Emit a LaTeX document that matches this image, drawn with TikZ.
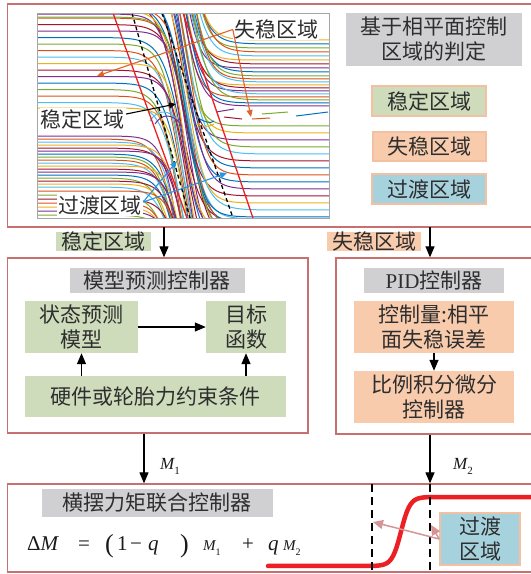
\documentclass[tikz,border=0pt]{standalone}
\usepackage{fontspec}
\setmainfont{Liberation Serif}
\newfontfamily\cjk{Noto Sans CJK SC}
\usetikzlibrary{arrows.meta}
\definecolor{boxred}{RGB}{200,112,112}
\definecolor{grayf}{RGB}{208,208,210}
\definecolor{greenf}{RGB}{206,220,188}
\definecolor{orangef}{RGB}{248,203,173}
\definecolor{bluef}{RGB}{166,210,222}
\definecolor{legb}{RGB}{244,192,162}
\definecolor{pinka}{RGB}{214,148,148}
\definecolor{oarr}{RGB}{222,100,40}
\definecolor{barr}{RGB}{40,150,222}
\definecolor{redc}{RGB}{236,32,36}
\definecolor{mc0}{RGB}{0,114,189}
\definecolor{mc1}{RGB}{217,83,25}
\definecolor{mc2}{RGB}{237,177,32}
\definecolor{mc3}{RGB}{126,47,142}
\definecolor{mc4}{RGB}{119,172,48}
\definecolor{mc5}{RGB}{77,190,238}
\definecolor{mc6}{RGB}{162,20,47}
\newcommand\vmsub[3]{{\fontsize{#1}{#1}\selectfont\itshape M}\raisebox{-0.28em}{\fontsize{#2}{#2}\selectfont #3}}
\begin{document}
\begin{tikzpicture}[x=1pt,y=-1pt,
  cj/.style={font=\cjk\fontsize{21}{25}\selectfont, text=black!82, align=center, inner sep=0pt},
  fbox/.style={cj, fill=#1},
  legbox/.style={cj, fill=#1, draw=legb, line width=1.5pt},
  arr/.style={-{Triangle[length=11pt,width=9pt]}, line width=1.2pt, black},
  smallarr/.style={-{Triangle[length=7pt,width=6pt]}, line width=1.1pt},
  pinkarr/.style={-{Triangle[length=10pt,width=9pt]}, line width=1.5pt, pinka},
  dashline/.style={line width=1.5pt, dash pattern=on 8pt off 5pt},
  mathlab/.style={anchor=base west, inner sep=0pt, text=black!90, font=\fontsize{21}{24}\selectfont},
  plab/.style={cj, fill=white, inner sep=1pt}
]
\useasboundingbox (0,0) rectangle (531,574);
\fill[white] (0,0) rectangle (531,574);
\begin{scope}
\clip (0,0) rectangle (531,574);

% ---------- top box ----------
\node[draw=boxred, line width=1.3pt, minimum width=526.5, minimum height=223] (topbox) at (270.75,115.5) {};

% phase plot
\begin{scope}
\clip (37,13) rectangle (329,218);
\foreach \c [count=\i] in {128,-70,246,16,109,134.5,-66,249,23,141,-62,252,112,147.5,-58,255,30,154,-54,258,115,160.5,-50,261,37,167,-46,264,118,173.5,-42,267,44,180,-38,270,121,186.5,-34,273,51,193,-31,276,124,199.5,-28,279,58,206,-25,282,127,212.5,-22,285,65,218,-19,288,-16,291,72,-13,294,79,-10,297,86,-7,301,93,-4,305,100,309,107,313,317,321,325}{
  \pgfmathtruncatemacro\k{mod(\i,7)}
  \pgfmathsetmacro\xo{184+5*sin(\i*77)}
  \pgfmathsetmacro\wd{19+2*cos(\i*53)}
  \draw[mc\k, line width=1pt] plot[domain=37:329, samples=110, smooth] (\x,{\c+110*tanh(max(-4,min(4,(\x-\xo)/\wd)))});
}
% short segments near the unstable point
\draw[mc3, line width=1pt] (216,112) -- (234,109);
\draw[mc6, line width=1pt] (224,117) -- (242,119);
\draw[mc4, line width=1pt] (262,114) -- (288,112);
\draw[mc0, line width=1pt] (296,116) -- (328,112);
\draw[mc1, line width=1pt] (252,119) -- (270,118);
% curls near the stable point
\draw[mc5, line width=1pt] (150,121) .. controls (158,108) and (170,110) .. (178,121);
\draw[mc3, line width=1pt] (155,124) .. controls (162,113) and (172,114) .. (180,123);
\draw[mc0, line width=1pt] (198,118) .. controls (205,122) and (210,124) .. (214,121);
\draw[mc2, line width=1pt] (196,124) .. controls (203,127) and (210,127) .. (214,124);
\end{scope}
% region boundaries
\draw[redc, line width=1.3pt] (113,13) -- (187,218);
\draw[redc, line width=1.3pt] (183,13) -- (253,218);
\draw[black, line width=1.3pt, dash pattern=on 4pt off 3pt] (132,13) -- (190,218);
\draw[black, line width=1.3pt, dash pattern=on 4pt off 3pt] (162,13) -- (233,218);
\draw[gray!70, line width=0.8pt] (37,13) rectangle (329,218);

% labels inside the plot
\node[plab] (lblU) at (276,29.5) {失稳区域};
\node[plab] (lblS) at (83,119) {稳定区域};
\node[plab] (lblT) at (100,205) {过渡区域};
\coordinate (tU1) at (97,76);
\coordinate (tU2) at (251,117);
\coordinate (tS) at (176,104);
\coordinate (tT1) at (177,161);
\coordinate (tT2) at (227,173);
\draw[smallarr, oarr] (lblU.west) -- (tU1);
\draw[smallarr, oarr] (lblU.west) -- (tU2);
\draw[smallarr, black] ([yshift=5pt]lblS.east) -- (tS);
\draw[smallarr, barr] ([yshift=3pt]lblT.east) -- (tT1);
\draw[smallarr, barr] ([yshift=3pt]lblT.east) -- (tT2);

% title and legend
\node[fbox=grayf, minimum width=176, minimum height=53.5] (title1) at (434,39.25) {基于相平面控制\\区域的判定};
\node[legbox=greenf, minimum width=114, minimum height=30] (leg1) at (429,101) {稳定区域};
\node[legbox=orangef, minimum width=113, minimum height=29] (leg2) at (429.5,146.5) {失稳区域};
\node[legbox=bluef, minimum width=114, minimum height=30] (leg3) at (429,189) {过渡区域};

% ---------- region labels ----------
\node[fbox=greenf, minimum width=95, minimum height=19] (lab1) at (103.5,241.5) {稳定区域};
\node[fbox=orangef, minimum width=94, minimum height=19] (lab2) at (374,241.5) {失稳区域};

% ---------- MPC box ----------
\node[draw=boxred, line width=1.3pt, minimum width=300.5, minimum height=175] (mpc) at (157.75,345.5) {};
\node[fbox=grayf, minimum width=175.5, minimum height=25] (mpctitle) at (157.25,280.5) {模型预测控制器};
\node[fbox=greenf, minimum width=113, minimum height=52] (smodel) at (81.5,327) {状态预测\\模型};
\node[fbox=greenf, minimum width=80, minimum height=52] (obj) at (246,327) {目标\\函数};
\node[fbox=greenf, minimum width=261, minimum height=41] (cons) at (155.5,396.5) {硬件或轮胎力约束条件};

% ---------- PID box ----------
\node[draw=boxred, line width=1.3pt, minimum width=198, minimum height=176] (pid) at (435,346) {};
\node[fbox=grayf, minimum width=140, minimum height=25] (pidtitle) at (434,280.5) {{\rmfamily PID}控制器};
\node[fbox=orangef, minimum width=160, minimum height=52] (ctrl) at (434,327) {控制量:相平\\面失稳误差};
\node[fbox=orangef, minimum width=160, minimum height=51.5] (pidc) at (434,396.75) {比例积分微分\\控制器};

% ---------- bottom box ----------
\node[draw=boxred, line width=1.3pt, minimum width=526.5, minimum height=88] (bot) at (270.75,528) {};
\node[fbox=grayf, minimum width=231, minimum height=28] (bottitle) at (157.5,503) {横摆力矩联合控制器};

% arrows between boxes
\coordinate (c1) at (164,227);
\coordinate (c2) at (430,227);
\coordinate (c3) at (144,433);
\draw[arr] (c1) -- (c1 |- mpc.north);
\draw[arr] (c2) -- (c2 |- pid.north);
\draw[arr] (smodel.east) -- (obj.west);
\draw[arr] (cons.north -| smodel.center) -- (smodel.south);
\draw[arr] (cons.north -| obj.center) -- (obj.south);
\draw[arr] (ctrl.south) -- (pidc.north);
\draw[arr] (mpc.south -| c3) -- (bot.north -| c3);
\draw[arr] (pid.south -| c2) -- (bot.north -| c2);
\node[mathlab] (m1) at (160,469) {\vmsub{17}{11}{1}};
\node[mathlab] (m2) at (453,469) {\vmsub{17}{11}{2}};

% formula
\node[mathlab] (f1) at (27,550) {Δ\textit{M}};
\node[mathlab] (f2) at (78,550) {=};
\node[mathlab, font=\fontsize{26}{28}\selectfont] (f3) at (105,552) {(};
\node[mathlab] (f4) at (117,550) {1};
\node[mathlab] (f5) at (130,550) {−};
\node[mathlab] (f6) at (148,550) {\textit{q}};
\node[mathlab, font=\fontsize{26}{28}\selectfont] (f7) at (180,552) {)};
\node[mathlab] (f8) at (203,550) {\vmsub{15}{10}{1}};
\node[mathlab] (f9) at (242,550) {+};
\node[mathlab] (f10) at (268,550) {\textit{q}};
\node[mathlab] (f11) at (283,550) {\vmsub{15}{10}{2}};

% transition curve
\draw[redc, line width=4.5pt, line cap=round] plot[domain=268:540, samples=140, smooth] (\x,{531.5-34.5*tanh(max(-4,min(4,(\x-401)/9)))});
\coordinate (d1t) at (372,484);
\coordinate (d1b) at (372,574);
\coordinate (d2t) at (430,484);
\coordinate (d2b) at (430,574);
\draw[dashline] (d1t) -- (d1b);
\draw[dashline] (d2t) -- (d2b);
\node[legbox=bluef, minimum width=80, minimum height=52] (trans) at (480,539) {过渡\\区域};
\coordinate (p1) at (373,522);
\coordinate (p2) at (431,525);
\draw[pinkarr] (trans.west) -- (p1);
\draw[pinkarr] (trans.west) -- (p2);
\end{scope}
\end{tikzpicture}
\end{document}
